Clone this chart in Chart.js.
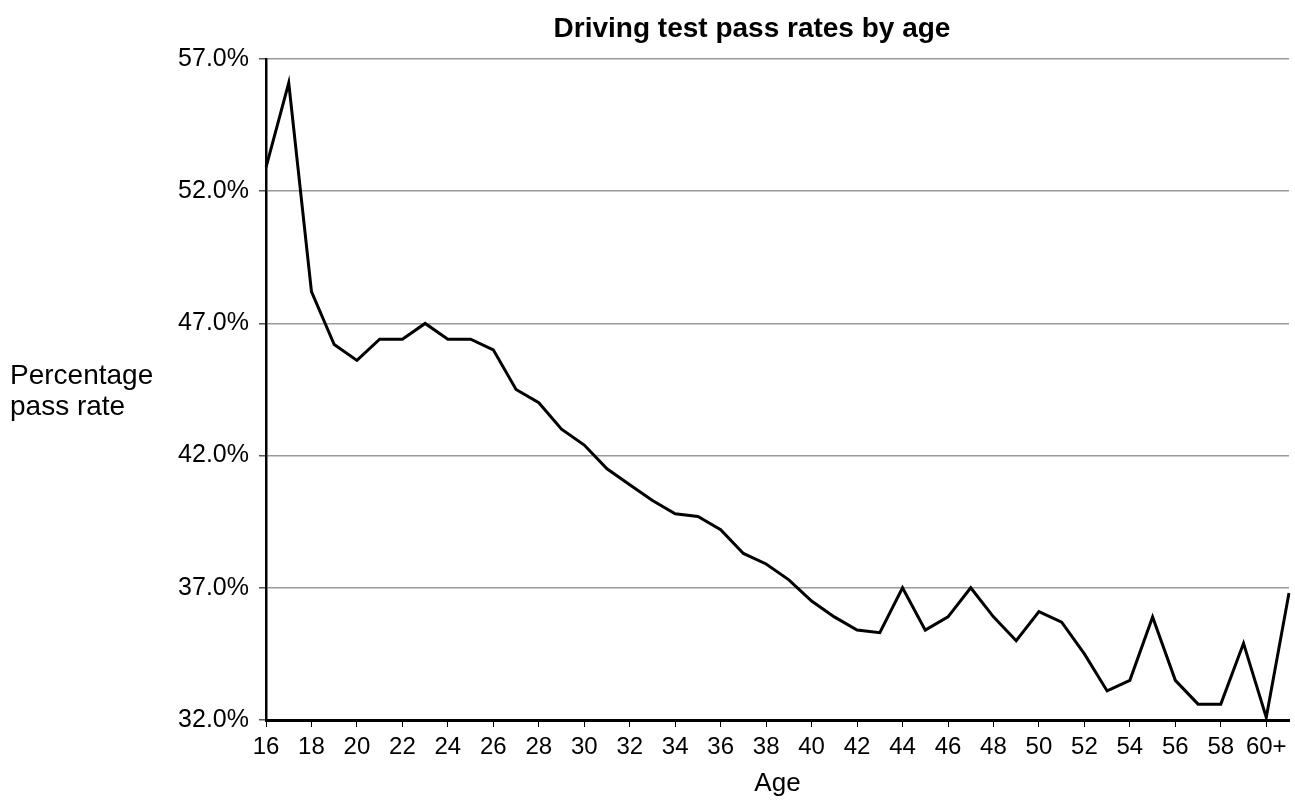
<!DOCTYPE html>
<html>
<head>
<meta charset="utf-8">
<script src="https://cdn.jsdelivr.net/npm/chart.js@4.4.1/dist/chart.umd.min.js"></script>
<style>
  html, body { margin: 0; padding: 0; background: #ffffff; }
  #wrap { width: 1295px; height: 802px; position: relative; }
</style>
</head>
<body>
<div id="wrap"><canvas id="c" width="1295" height="802"></canvas></div>
<script>
const chartTitle = "Driving test pass rates by age";
const xAxisTitle = "Age";
const yAxisTitleLines = ["Percentage", "pass rate"];
const ageLabels = ["16","17","18","19","20","21","22","23","24","25","26","27","28","29","30","31","32","33","34","35","36","37","38","39","40","41","42","43","44","45","46","47","48","49","50","51","52","53","54","55","56","57","58","59","60+",""];
const passRates = [52.9,56.1,48.2,46.2,45.6,46.4,46.4,47.0,46.4,46.4,46.0,44.5,44.0,43.0,42.4,41.5,40.9,40.3,39.8,39.7,39.2,38.3,37.9,37.3,36.5,35.9,35.4,35.3,37.0,35.4,35.9,37.0,35.9,35.0,36.1,35.7,34.5,33.1,33.5,35.9,33.5,32.6,32.6,34.9,32.1,36.8];
const yMin = 32, yMax = 57, yStep = 5;

const FONT = "'Liberation Sans', Arial, sans-serif";

const textPlugin = {
  id: 'extraTexts',
  afterDraw(chart) {
    const ctx = chart.ctx;
    ctx.save();
    ctx.fillStyle = "#000";
    // chart title
    ctx.font = "bold 28px " + FONT;
    ctx.textAlign = "center";
    ctx.textBaseline = "alphabetic";
    ctx.fillText(chartTitle, 752, 37);
    // horizontal y-axis title
    ctx.font = "28px " + FONT;
    ctx.textAlign = "left";
    ctx.fillText(yAxisTitleLines[0], 10, 384);
    ctx.fillText(yAxisTitleLines[1], 10, 415);
    ctx.restore();
  }
};

new Chart(document.getElementById('c'), {
  type: 'line',
  data: {
    labels: ageLabels,
    datasets: [{
      data: passRates,
      borderColor: '#000000',
      borderWidth: 3,
      pointRadius: 0,
      pointHoverRadius: 0,
      tension: 0,
      fill: false
    }]
  },
  options: {
    responsive: false,
    animation: false,
    layout: { padding: { left: 0, right: 2, top: 59, bottom: 0 } },
    plugins: {
      legend: { display: false },
      tooltip: { enabled: false },
      title: { display: false }
    },
    scales: {
      x: {
        offset: false,
        grid: {
          display: true,
          drawOnChartArea: false,
          drawTicks: true,
          tickLength: 7,
          tickWidth: 1,
          tickColor: (ctx) => (ctx.index % 2 === 0 ? '#000' : 'rgba(0,0,0,0)')
        },
        border: { display: true, color: '#000', width: 3 },
        ticks: {
          autoSkip: false,
          maxRotation: 0,
          minRotation: 0,
          padding: 6,
          color: '#000',
          font: { family: FONT, size: 24 },
          callback: function(value, index) { return index % 2 === 0 ? ageLabels[index] : ''; }
        },
        title: {
          display: true,
          text: xAxisTitle,
          color: '#000',
          font: { family: FONT, size: 26 },
          padding: { top: 0, bottom: 3 }
        }
      },
      y: {
        min: yMin,
        max: yMax,
        afterFit: (scale) => { scale.width = 266; },
        grid: {
          color: '#999999',
          lineWidth: 1.5,
          drawTicks: true,
          tickLength: 7,
          tickColor: '#555555'
        },
        border: { display: true, color: '#000', width: 2.5 },
        ticks: {
          stepSize: yStep,
          padding: 10,
          color: '#000',
          font: { family: FONT, size: 25 },
          callback: (v) => Number(v).toFixed(1) + '%'
        }
      }
    }
  },
  plugins: [textPlugin]
});
</script>
</body>
</html>
